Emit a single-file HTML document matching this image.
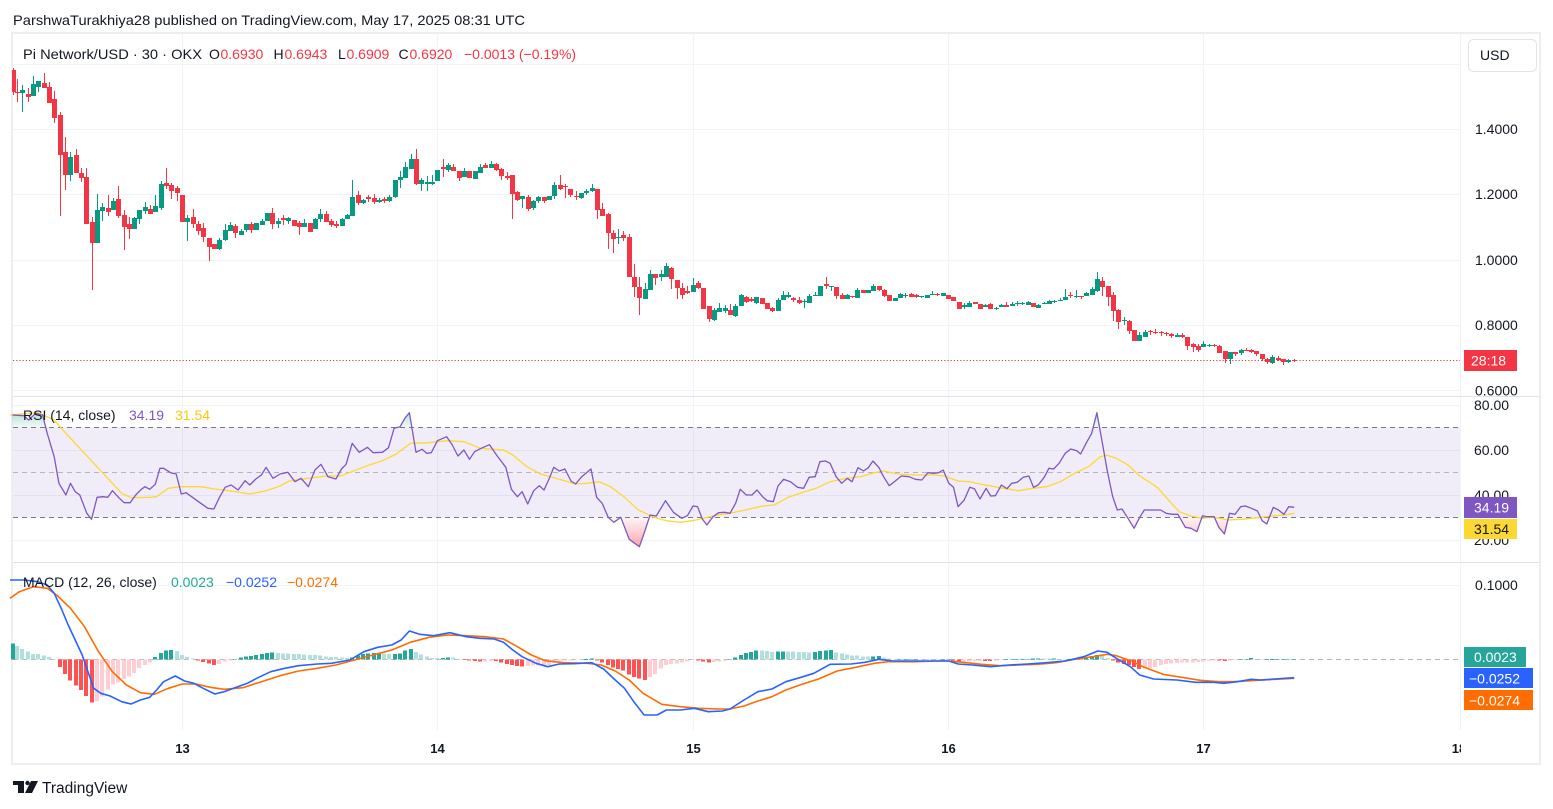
<!DOCTYPE html>
<html>
<head>
<meta charset="utf-8">
<style>
html,body{margin:0;padding:0;background:#fff;}
body{width:1553px;height:809px;overflow:hidden;position:relative;}
svg{position:absolute;left:0;top:0;}
text{font-family:"Liberation Sans",Arial,sans-serif;}
</style>
</head>
<body>
<svg id="s" width="1553" height="809" viewBox="0 0 1553 809" xmlns="http://www.w3.org/2000/svg">
<defs>
  <linearGradient id="gRed" gradientUnits="userSpaceOnUse" x1="0" y1="517.5" x2="0" y2="548">
    <stop offset="0" stop-color="#f23645" stop-opacity="0.05"/>
    <stop offset="1" stop-color="#f23645" stop-opacity="0.45"/>
  </linearGradient>
  <linearGradient id="gGreen" gradientUnits="userSpaceOnUse" x1="0" y1="427.5" x2="0" y2="410">
    <stop offset="0" stop-color="#089981" stop-opacity="0.05"/>
    <stop offset="1" stop-color="#089981" stop-opacity="0.35"/>
  </linearGradient>
  <clipPath id="cLow"><rect x="12" y="517.5" width="1448" height="44"/></clipPath>
  <clipPath id="cHigh"><rect x="12" y="396" width="1448" height="31.5"/></clipPath>
  <clipPath id="cPrice"><rect x="12" y="33" width="1528" height="363"/></clipPath>
  <clipPath id="cPriceAxis"><rect x="1461" y="33" width="80" height="363"/></clipPath>
  <clipPath id="cX"><rect x="12" y="730" width="1449" height="34"/></clipPath>
</defs>

<!-- header -->
<text x="13" y="25" font-size="14" fill="#131722" textLength="512" lengthAdjust="spacingAndGlyphs">ParshwaTurakhiya28 published on TradingView.com, May 17, 2025 08:31 UTC</text>

<!-- frame -->
<rect x="12" y="33" width="1528" height="731" fill="#fff" stroke="#eeeeee" stroke-width="2"/>

<!-- grid -->
<g stroke="#f0f3fa" stroke-width="1">
  <line x1="13" x2="1460" y1="64.5" y2="64.5"/>
  <line x1="13" x2="1460" y1="129.5" y2="129.5"/>
  <line x1="13" x2="1460" y1="194.5" y2="194.5"/>
  <line x1="13" x2="1460" y1="260.5" y2="260.5"/>
  <line x1="13" x2="1460" y1="325.5" y2="325.5"/>
  <line x1="13" x2="1460" y1="390.5" y2="390.5"/>
  <line x1="13" x2="1460" y1="405.5" y2="405.5"/>
  <line x1="13" x2="1460" y1="450.5" y2="450.5"/>
  <line x1="13" x2="1460" y1="495.5" y2="495.5"/>
  <line x1="13" x2="1460" y1="540.5" y2="540.5"/>
  <line x1="13" x2="1460" y1="585.5" y2="585.5"/>
  <line x1="182.5" x2="182.5" y1="34" y2="730"/>
  <line x1="437.5" x2="437.5" y1="34" y2="730"/>
  <line x1="693.5" x2="693.5" y1="34" y2="730"/>
  <line x1="948.5" x2="948.5" y1="34" y2="730"/>
  <line x1="1203.5" x2="1203.5" y1="34" y2="730"/>
  <line x1="1460.5" x2="1460.5" y1="34" y2="730"/>
</g>

<!-- pane separators -->
<line x1="13" x2="1540" y1="396.5" y2="396.5" stroke="#e0e3eb" stroke-width="1"/>
<line x1="13" x2="1540" y1="562.5" y2="562.5" stroke="#e0e3eb" stroke-width="1"/>

<!-- RSI band -->
<rect x="13" y="427.5" width="1447" height="90" fill="#7e57c2" fill-opacity="0.11"/>
<line x1="13" x2="1460" y1="427.5" y2="427.5" stroke="#787b86" stroke-width="1" stroke-dasharray="5,4"/>
<line x1="13" x2="1460" y1="472.5" y2="472.5" stroke="#b2b5be" stroke-width="1" stroke-dasharray="5,4"/>
<line x1="13" x2="1460" y1="517.5" y2="517.5" stroke="#787b86" stroke-width="1" stroke-dasharray="5,4"/>

<!-- MACD zero line -->
<line x1="13" x2="1460" y1="659.5" y2="659.5" stroke="#b2b5be" stroke-width="1" stroke-dasharray="5,4"/>

<g id="dyn"></g>

<!-- current price dotted line -->
<line x1="13" x2="1460" y1="360.5" y2="360.5" stroke="#f23645" stroke-width="1" stroke-dasharray="1.2,2"/>

<!-- legends -->
<text y="59" font-size="14" fill="#131722"><tspan x="23" textLength="179" lengthAdjust="spacingAndGlyphs">Pi Network/USD · 30 · OKX</tspan><tspan x="209">O</tspan><tspan x="220.5" fill="#f23645">0.6930</tspan><tspan x="273.5">H</tspan><tspan x="284.5" fill="#f23645">0.6943</tspan><tspan x="338">L</tspan><tspan x="346.5" fill="#f23645">0.6909</tspan><tspan x="398.5">C</tspan><tspan x="409.5" fill="#f23645">0.6920</tspan><tspan x="464" fill="#f23645">−0.0013 (−0.19%)</tspan></text>

<text y="420" font-size="14" fill="#131722"><tspan x="23">RSI (14, close)</tspan><tspan x="129" fill="#7e57c2">34.19</tspan><tspan x="175" fill="#f9c80e">31.54</tspan></text>

<text y="587" font-size="14" fill="#131722"><tspan x="23">MACD (12, 26, close)</tspan><tspan x="171" fill="#22ab94">0.0023</tspan><tspan x="226" fill="#2962ff">−0.0252</tspan><tspan x="287" fill="#ff6d00">−0.0274</tspan></text>

<!-- price axis -->
<rect x="1468.5" y="39.5" width="68" height="32" rx="5" fill="#fff" stroke="#e0e3eb"/>
<text x="1480" y="60" font-size="14" fill="#131722">USD</text>
<g font-size="14" fill="#131722">
  <text x="1475" y="134">1.4000</text>
  <text x="1475" y="199">1.2000</text>
  <text x="1475" y="265">1.0000</text>
  <text x="1475" y="330">0.8000</text>
  <g clip-path="url(#cPriceAxis)"><text x="1475" y="395.5">0.6000</text></g>
  <text x="1474" y="410">80.00</text>
  <text x="1474" y="455">60.00</text>
  <text x="1474" y="500">40.00</text>
  <text x="1474" y="545">20.00</text>
  <text x="1475" y="590">0.1000</text>
</g>

<!-- axis value boxes -->
<rect x="1464" y="350" width="53" height="21" fill="#f23645"/>
<text x="1471" y="365.5" font-size="14" fill="#fff">28:18</text>
<rect x="1464" y="497" width="53" height="21" fill="#7e57c2"/>
<text x="1474" y="512.5" font-size="14" fill="#fff">34.19</text>
<rect x="1464" y="519" width="53" height="20" fill="#fdd835"/>
<text x="1474" y="534" font-size="14" fill="#131722">31.54</text>
<rect x="1464" y="647" width="62" height="20" fill="#26a69a"/>
<text x="1474" y="662" font-size="14" fill="#fff">0.0023</text>
<rect x="1464" y="668" width="69" height="20" fill="#2962ff"/>
<text x="1469" y="683.5" font-size="14" fill="#fff">−0.0252</text>
<rect x="1464" y="690" width="69" height="20" fill="#ff6d00"/>
<text x="1469" y="705.5" font-size="14" fill="#fff">−0.0274</text>

<!-- x axis -->
<g font-size="13" font-weight="bold" fill="#131722" text-anchor="middle" clip-path="url(#cX)">
  <text x="182.5" y="753">13</text>
  <text x="437.5" y="753">14</text>
  <text x="693.5" y="753">15</text>
  <text x="948.5" y="753">16</text>
  <text x="1203.5" y="753">17</text>
  <text x="1459" y="753">18</text>
</g>

<!-- TradingView logo -->
<g fill="#131722">
  <rect x="13" y="781" width="11" height="4"/>
  <rect x="18" y="781" width="6" height="12"/>
  <circle cx="27.5" cy="783" r="2.2"/>
  <polygon points="31,781 38,781 32,793 25,793"/>
</g>
<text x="42" y="793" font-size="15.5" fill="#131722">TradingView</text>
</svg>

<script>
(function(){
var C=[
[13,70,92,'r',68,95],[17,92,93,'r',79,102],[22,90,93,'g',85,112],[28,94,97,'r',88,102],[33,84,96,'g',76,96],[38,81,87,'g',81,92],[44,83,88,'r',73,88],[49,87,103,'r',82,103],[54,99,118,'r',91,123],[60,115,155,'r',112,216],[65,152,175,'r',137,190],[70,157,175,'g',152,181],[76,155,173,'r',149,173],[81,173,178,'r',168,182],[86,177,224,'r',168,224],[92,222,243,'r',217,290],[97,210,243,'g',194,243],[102,207,211,'g',203,221],[108,208,212,'r',195,216],[113,201,210,'g',198,210],[118,199,216,'r',186,218],[124,215,227,'r',210,250],[129,224,229,'r',217,239],[134,218,229,'g',217,229],[139,210,219,'g',210,224],[145,207,211,'g',202,214],[150,209,214,'r',205,214],[155,206,212,'g',195,212],[161,184,208,'g',181,210],[166,183,186,'r',168,189],[171,185,191,'r',183,199],[177,188,193,'r',186,201],[182,195,222,'r',195,222],[187,218,222,'g',215,241],[193,217,224,'r',209,228],[198,224,231,'r',221,235],[203,228,237,'r',223,242],[209,238,247,'r',238,261],[214,244,249,'r',244,249],[219,240,249,'g',238,250],[225,230,240,'g',224,241],[230,225,231,'g',222,231],[235,226,233,'r',224,238],[241,231,235,'g',229,235],[246,224,230,'g',224,232],[251,224,230,'r',222,233],[256,223,230,'g',223,230],[262,221,225,'g',219,225],[267,213,221,'g',213,221],[272,213,224,'r',208,229],[278,221,224,'g',218,228],[283,218,220,'r',215,225],[288,218,221,'g',217,224],[294,220,226,'r',220,226],[299,223,227,'r',221,235],[304,223,227,'g',219,227],[310,223,232,'r',223,232],[315,219,229,'g',218,229],[320,214,219,'g',209,222],[326,214,222,'r',211,222],[331,221,225,'r',219,227],[336,224,226,'r',221,228],[342,219,226,'g',218,226],[347,215,219,'g',214,219],[352,197,216,'g',180,216],[358,195,203,'r',191,205],[363,200,203,'g',199,204],[368,197,199,'r',195,202],[374,198,202,'r',194,204],[379,200,202,'g',198,203],[384,199,201,'r',197,203],[389,197,201,'g',195,202],[395,180,197,'g',180,198],[400,177,180,'g',171,188],[405,167,178,'g',162,178],[411,159,169,'g',154,169],[416,159,184,'r',149,185],[421,180,184,'g',178,191],[427,182,184,'g',176,191],[432,182,184,'g',175,185],[437,170,181,'g',170,181],[443,167,169,'r',159,177],[448,165,170,'g',163,172],[453,167,171,'r',164,171],[459,171,178,'r',171,181],[464,171,177,'g',168,177],[469,171,178,'r',171,178],[475,171,179,'g',171,179],[480,167,173,'g',164,173],[485,165,168,'r',163,168],[491,164,168,'g',161,168],[496,164,170,'r',163,171],[501,169,176,'r',168,180],[507,176,178,'r',172,180],
[512,175,194,'r',175,219],[517,192,200,'r',191,201],[522,196,199,'g',196,208],[528,197,209,'r',195,211],[533,201,208,'g',200,210],[538,197,201,'g',196,203],[544,197,201,'r',197,203],[549,196,200,'g',196,200],[554,185,196,'g',182,199],[560,185,189,'r',175,190],[565,186,187,'r',184,198],[570,189,195,'r',189,197],[576,196,197,'r',191,200],[581,193,198,'g',193,199],[586,191,193,'g',189,195],[592,188,191,'g',184,192],[597,189,210,'r',189,219],[602,209,216,'r',203,216],[608,214,233,'r',213,249],[613,233,239,'r',230,253],[618,237,238,'g',229,244],[623,235,238,'r',231,241],[629,237,277,'r',234,277],[634,277,287,'r',264,297],[639,287,298,'r',277,315],[645,289,299,'g',283,299],[650,274,290,'g',270,290],[655,274,278,'r',274,285],[661,274,277,'g',270,281],[666,266,277,'g',263,277],[671,268,279,'r',267,289],[677,280,288,'r',280,299],[682,288,295,'r',283,299],[687,291,293,'r',286,294],[693,285,292,'g',278,292],[698,283,288,'r',281,289],[703,288,309,'r',288,309],[709,306,319,'r',306,322],[714,310,320,'g',308,321],[719,308,312,'g',303,312],[725,308,311,'g',305,313],[730,310,315,'r',304,315],[735,306,316,'g',304,317],[741,295,306,'g',294,306],[746,297,302,'r',296,303],[751,299,301,'r',297,302],[756,297,303,'g',297,304],[762,298,304,'r',298,304],[767,303,309,'r',303,309],[772,308,311,'r',307,312],[778,300,311,'g',298,311],[783,295,300,'g',291,300],[788,295,297,'g',292,298],[793,298,300,'r',297,302],[799,300,303,'r',297,304],[804,301,302,'g',299,308],[809,296,303,'g',294,303],[815,295,296,'g',292,296],[820,286,296,'g',286,296],[826,284,286,'r',277,289],[831,286,287,'g',286,291],[836,287,296,'r',287,299],[842,295,299,'r',293,299],[847,295,299,'g',294,299],[852,296,297,'r',296,298],[857,290,298,'g',288,298],[863,290,293,'r',290,293],[868,290,293,'g',290,293],[873,286,291,'g',284,291],[879,286,290,'r',286,291],[884,290,296,'r',289,297],[889,295,301,'r',295,301],[895,298,301,'g',298,301],[900,294,298,'g',293,298],[905,295,296,'g',293,298],[911,294,297,'r',293,297],[916,295,297,'r',294,298],[921,296,297,'g',296,298],[927,295,298,'g',295,298],[932,294,295,'g',291,295],[937,294,295,'r',293,296],[943,293,296,'g',293,296],[948,295,299,'r',295,299],[953,297,301,'r',297,301],
[959,302,309,'r',302,309],[964,305,307,'g',303,309],[969,303,307,'g',301,307],[975,302,304,'r',302,304],[980,304,309,'r',304,309],[985,305,307,'g',304,307],[990,304,309,'r',303,309],[996,308,309,'g',307,310],[1001,305,307,'g',304,307],[1006,305,307,'r',302,307],[1012,304,306,'g',302,306],[1017,303,304,'g',301,306],[1022,303,304,'g',302,305],[1028,302,305,'g',301,305],[1033,303,307,'r',303,307],[1038,305,308,'g',304,308],[1044,303,304,'g',302,304],[1049,301,304,'g',300,304],[1054,301,302,'g',300,303],[1060,300,301,'g',298,301],[1065,297,300,'g',289,300],[1070,295,296,'r',292,298],[1076,296,297,'g',290,298],[1081,296,297,'r',296,299],[1086,293,296,'g',292,296],[1092,289,295,'g',287,295],[1097,279,291,'g',272,292],[1102,281,287,'r',277,296],[1108,286,297,'r',286,306],[1113,295,311,'r',292,321],[1118,310,322,'r',309,329],[1124,320,321,'g',317,325],[1129,321,331,'r',320,334],[1134,330,341,'r',330,341],[1139,335,341,'g',332,341],[1145,332,337,'g',330,337],[1150,331,332,'r',330,335],[1155,332,333,'r',329,334],[1161,332,333,'r',331,336],[1166,333,334,'r',332,336],[1171,334,336,'r',333,338],[1177,335,337,'g',333,337],[1182,335,337,'r',333,338],[1187,337,346,'r',337,350],[1193,344,347,'r',343,352],[1198,346,350,'r',344,352],[1203,344,347,'g',341,347],[1209,345,346,'g',344,347],[1214,345,346,'r',344,347],[1219,346,353,'r',345,353],[1225,351,359,'r',351,363],[1230,352,359,'g',352,364],[1235,352,354,'r',352,356],[1241,350,353,'g',349,355],[1246,350,351,'r',348,351],[1251,350,352,'r',349,353],[1256,351,354,'r',351,356],[1262,354,359,'r',354,361],[1267,359,362,'r',358,364],[1272,357,363,'g',355,364],[1278,358,360,'r',356,361],[1283,359,362,'r',359,365],[1288,360,362,'g',359,363],[1294,360,361,'r',359,362]
];

function T(a,x0,y0){return a.map(function(p){return [x0+p[0]/2.148,y0+p[1]/3];});}
function M(a,b,cut){return a.filter(function(p){return p[0]<cut;}).concat(b);}
function I(pts,x){if(x<=pts[0][0])return pts[0][1];for(var i=1;i<pts.length;i++){if(x<=pts[i][0]){var a=pts[i-1],b=pts[i];return a[1]+(b[1]-a[1])*(x-a[0])/(b[0]-a[0]);}}return pts[pts.length-1][1];}
function P(pts){return 'M'+pts.map(function(p){return p[0].toFixed(1)+','+p[1].toFixed(1);}).join('L');}

var rsiA=[[5,45],[30,47],[40,60],[55,40],[70,45],[80,100],[95,170],[105,250],[120,285],[130,250],[140,275],[150,285],[165,340],[175,358],[187,292],[200,290],[210,292],[220,272],[235,295],[245,308],[258,308],[270,285],[282,268],[290,260],[300,268],[312,253],[322,205],[330,205],[345,218],[357,222],[368,282],[378,278],[390,290],[405,305],[425,325],[438,327],[450,292],[462,262],[475,255],[490,270],[505,242],[515,255],[528,237],[540,225],[550,202],[565,235],[580,222],[597,217],[612,245],[625,235],[641,260],[655,210],[668,193],[683,230],[700,237],[712,207],[722,193],[735,130],[750,157],[768,142],[780,158],[800,157],[813,143],[825,85],[838,80],[848,55],[858,38],[872,157],[885,148],[895,160],[905,158],[918,122],[938,110],[950,135],[962,168],[975,150],[987,178],[998,155],[1012,145],[1030,134],[1045,165],[1065,202],[1077,268],[1090,290],[1100,275],[1112,312],[1125,272],[1137,257],[1147,270],[1157,240],[1168,202],[1180,213],[1192,207],[1205,243],[1215,252],[1228,230],[1248,207],[1260,292],[1272,310],[1285,352],[1297,367],[1312,352],[1330,418],[1352,440],[1362,400],[1375,345],[1388,348],[1408,302],[1425,337],[1443,355],[1455,347],[1467,318],[1477,320],[1487,357],[1497,375],[1510,350],[1522,338],[1535,337]];
var rsiB=[[0,340],[12,310],[22,268],[35,285],[47,285],[58,270],[70,290],[80,302],[93,305],[103,258],[115,238],[130,245],[145,262],[158,265],[170,232],[183,230],[193,185],[205,183],[215,190],[228,230],[240,250],[252,235],[262,245],[275,203],[287,213],[297,203],[307,183],[320,203],[330,230],[342,257],[355,243],[368,228],[385,230],[398,238],[412,240],[425,218],[438,220],[448,218],[458,210],[470,250],[480,262],[490,320],[503,300],[515,262],[525,266],[537,297],[550,265],[560,288],[570,287],[583,255],[595,266],[605,250],[617,247],[630,232],[642,228],[652,262],[662,255],[675,232],[685,205],[695,207],[707,190],[720,160],[732,147],[745,152],[753,162],[765,130],[777,100],[788,38],[800,130],[810,210],[822,290],[832,330],[842,327],[855,355],[868,385],[880,352],[890,330],[925,330],[937,340],[950,343],[962,343],[978,382],[990,385],[1003,395],[1015,347],[1025,350],[1040,350],[1050,382],[1062,402],[1073,340],[1085,343],[1097,320],[1107,318],[1120,325],[1133,333],[1143,362],[1153,372],[1167,322],[1178,330],[1190,343],[1200,320],[1212,322]];
var maA=[[0,45],[60,38],[95,60],[120,100],[150,145],[180,190],[210,235],[240,280],[260,293],[300,292],[315,290],[340,265],[365,260],[410,260],[440,267],[470,272],[515,282],[550,272],[580,258],[600,243],[640,235],[680,228],[710,228],[740,212],[770,196],[800,182],[830,162],[860,130],[900,128],[940,122],[975,125],[1010,145],[1060,150],[1080,165],[1110,200],[1140,222],[1180,238],[1215,252],[1240,250],[1265,245],[1290,260],[1320,292],[1350,330],[1380,350],[1410,362],[1440,367],[1465,362],[1490,355],[1520,345]];
var maB=[[0,340],[40,328],[70,318],[95,315],[125,292],[160,275],[185,265],[215,245],[250,235],[280,230],[310,218],[330,213],[360,222],[400,225],[440,225],[460,228],[490,243],[515,245],[540,253],[580,263],[620,272],[650,265],[680,260],[710,245],[740,220],[770,200],[795,170],[810,166],[830,175],[855,195],[880,228],[905,250],[920,265],[945,305],[965,335],[990,348],[1015,355],[1030,352],[1045,353],[1070,360],[1100,358],[1140,352],[1170,347],[1190,345],[1212,340]];
var bA=[[0,45],[30,45],[60,50],[80,60],[95,85],[110,130],[125,180],[140,225],[155,270],[170,330],[180,370],[195,385],[215,393],[240,410],[260,417],[280,405],[300,397],[315,375],[330,350],[355,333],[375,348],[395,355],[415,370],[440,387],[460,380],[480,370],[510,355],[530,340],[560,320],[590,310],[620,302],[660,297],[690,295],[730,285],[760,260],[790,247],[820,240],[840,225],[858,198],[880,208],[910,212],[945,203],[980,215],[1010,220],[1040,222],[1060,232],[1080,255],[1100,275],[1130,295],[1155,305],[1180,297],[1210,296],[1250,293],[1275,312],[1300,345],[1320,370],[1340,410],[1362,450],[1390,450],[1410,435],[1440,435],[1470,430],[1500,440],[1530,438]];
var bB=[[0,432],[30,405],[60,380],[90,372],[120,350],[150,338],[180,325],[215,298],[260,297],[290,292],[320,283],[350,288],[400,288],[440,288],[470,288],[490,297],[520,300],[560,305],[600,300],[640,297],[680,293],[720,288],[760,275],[790,258],[810,262],[830,280],[860,305],[880,330],[910,342],[960,345],[1000,352],[1040,352],[1060,355],[1090,350],[1120,343],[1140,345],[1170,342],[1212,338]];
var oA=[[0,100],[20,80],[50,65],[80,70],[100,90],[130,130],[160,185],[190,260],[220,320],[250,360],[280,383],[310,388],[340,370],[370,357],[400,357],[430,367],[460,373],[500,368],[540,350],[580,332],[620,318],[660,310],[700,300],[740,285],[780,270],[820,255],[860,232],[900,217],[940,210],[980,212],[1020,215],[1060,222],[1090,245],[1120,270],[1150,287],[1190,293],[1240,295],[1270,300],[1300,318],[1330,345],[1360,385],[1400,418],[1440,425],[1480,430],[1520,432]];
var oB=[[0,432],[30,423],[60,408],[90,395],[120,375],[150,360],[190,342],[230,318],[270,307],[310,295],[340,290],[400,290],[440,288],[470,288],[500,292],[540,298],[580,302],[620,300],[660,298],[700,293],[740,283],[780,275],[810,268],[830,272],[860,287],[890,307],[930,328],[970,337],[1010,346],[1050,350],[1080,350],[1120,347],[1170,343],[1212,340]];

var rsi=M(T(rsiA,10,400),T(rsiB,730,400),729.5);
var ma=M(T(maA,10,400),T(maB,730,400),729.5);
var blue=M(T(bA,10,565),T(bB,730,565),729.5);
var orng=M(T(oA,10,565),T(oB,730,565),729.5);

var h='';
h+='<g shape-rendering="crispEdges" clip-path="url(#cPrice)">';
C.forEach(function(c){
  var x=Math.round(c[0]);var col=c[3]=='g'?'#089981':'#f23645';
  var wt=c[4]!==undefined?c[4]:c[1]-2, wb=c[5]!==undefined?c[5]:c[2]+2;
  h+='<rect x="'+x+'" y="'+wt+'" width="1" height="'+Math.max(1,wb-wt)+'" fill="'+col+'"/>';
  h+='<rect x="'+(x-2)+'" y="'+c[1]+'" width="5" height="'+Math.max(1,c[2]-c[1])+'" fill="'+col+'"/>';
});
h+='</g>';

h+='<g shape-rendering="crispEdges">';
var prev=null;
C.forEach(function(c){
  var x=Math.round(c[0]);
  var v=I(orng,c[0])-I(blue,c[0]);
  var col;
  if(v>=0){col=(prev===null||v>=prev)?'#26a69a':'#b2dfdb';}
  else{col=(prev===null||v<prev)?'#ff5252':'#ffcdd2';}
  prev=v;
  var y0=659.5, top=v>=0?y0-v:y0, hh=Math.abs(v);
  if(hh<0.6)hh=0.6;
  h+='<rect x="'+(x-2)+'" y="'+top.toFixed(1)+'" width="4" height="'+hh.toFixed(1)+'" fill="'+col+'"/>';
});
h+='</g>';

var f0=rsi[0][0],f1=rsi[rsi.length-1][0];
h+='<path d="'+P(rsi)+'L'+f1.toFixed(1)+',517.5L'+f0.toFixed(1)+',517.5Z" fill="url(#gRed)" clip-path="url(#cLow)"/>';
h+='<path d="'+P(rsi)+'L'+f1.toFixed(1)+',427.5L'+f0.toFixed(1)+',427.5Z" fill="url(#gGreen)" clip-path="url(#cHigh)"/>';

h+='<path d="'+P(ma)+'" fill="none" stroke="#fdd835" stroke-width="1.3" stroke-linejoin="round"/>';
h+='<path d="'+P(rsi)+'" fill="none" stroke="#7e57c2" stroke-width="1.3" stroke-linejoin="round"/>';
h+='<path d="'+P(orng)+'" fill="none" stroke="#ff6d00" stroke-width="1.6" stroke-linejoin="round"/>';
h+='<path d="'+P(blue)+'" fill="none" stroke="#2962ff" stroke-width="1.6" stroke-linejoin="round"/>';

document.getElementById('dyn').innerHTML=h;
})();
</script>
</body>
</html>
